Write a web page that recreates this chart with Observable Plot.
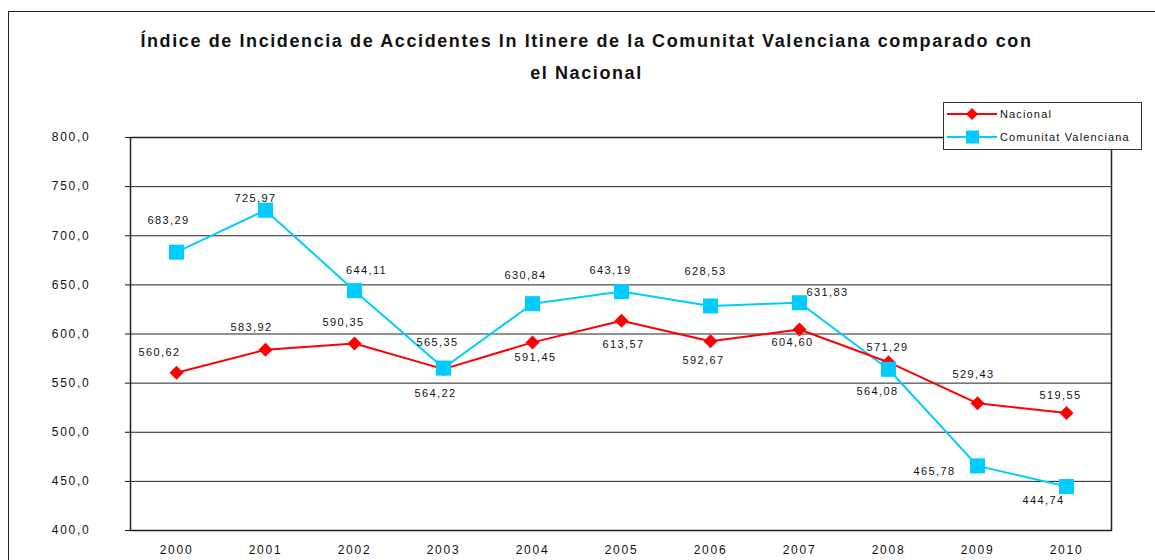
<!DOCTYPE html>
<html>
<head>
<meta charset="utf-8">
<script src="https://cdn.jsdelivr.net/npm/d3@7"></script>
<script src="https://cdn.jsdelivr.net/npm/@observablehq/plot@0.6"></script>
<style>
  html, body { margin: 0; padding: 0; background: #fff; overflow: hidden; }
  #wrap { position: relative; width: 1155px; height: 560px; overflow: hidden; font-family: "Liberation Sans", Arial, sans-serif; }
  #border { position: absolute; left: 8px; top: 11px; width: 1200px; height: 700px; border: 1.5px solid #222; box-sizing: border-box; }
  #title { position: absolute; left: 0; top: 24.5px; width: 1173px; text-align: center; font-weight: bold; font-size: 18px; line-height: 32px; color: #111; letter-spacing: 1.6px; }
  #chart { position: absolute; left: 0; top: 100px; }
  #chart [aria-label="y-axis tick label"], #chart [aria-label="x-axis tick label"] { letter-spacing: 1.75px; }
  #chart [aria-label="text"] { letter-spacing: 1.4px; }
  #legend { position: absolute; left: 943px; top: 102px; width: 199px; height: 48px; border: 1px solid #333; background: #fff; box-sizing: border-box; font-size: 11px; color: #111; letter-spacing: 1.15px; }
  .lg { position: absolute; left: 3px; height: 16px; display: flex; align-items: center; }
  .lg svg { margin-right: 3px; }
</style>
</head>
<body>
<div id="wrap">
  <div id="border"></div>
  <div id="title">Índice de Incidencia de Accidentes In Itinere de la Comunitat Valenciana comparado con<br>el Nacional</div>
  <div id="chart"></div>
  <div id="legend"></div>
</div>
<script>
const years = ["2000","2001","2002","2003","2004","2005","2006","2007","2008","2009","2010"];
const nacional = [560.62, 583.92, 590.35, 564.22, 591.45, 613.57, 592.67, 604.60, 571.29, 529.43, 519.55];
const valenciana = [683.29, 725.97, 644.11, 565.35, 630.84, 643.19, 628.53, 631.83, 564.08, 465.78, 444.74];
const yTicks = [400, 450, 500, 550, 600, 650, 700, 750, 800];
const seriesNames = ["Nacional", "Comunitat Valenciana"];
const seriesColors = ["#ff0000", "#00ccff"];

const fmt2 = v => v.toFixed(2).replace(".", ",");
const fmt1 = v => v.toFixed(1).replace(".", ",");

const nacData = years.map((y, i) => ({year: y, value: nacional[i]}));
const valData = years.map((y, i) => ({year: y, value: valenciana[i]}));

// label placement offsets (dx, dy) in pixels
const nacOff = [[-17,-20],[-14,-22],[-11,-21],[-8,24],[3,15],[2,24],[-7,19],[-7,13],[-1,-15],[-4,-29],[-6,-18]];
const valOff = [[-8,-32],[-10,-12],[12,-20],[-6,-26],[-7,-28],[-11,-21],[-5,-35],[28,-10],[-11,22],[-43,6],[-23,14]];

const labelMarks = (data, off) => data.map((d, i) => Plot.text([d], {
  x: "year", y: "value", text: d => fmt2(d.value),
  dx: off[i][0], dy: off[i][1], fontSize: 11, fill: "#111"
}));

const chart = Plot.plot({
  width: 1155,
  height: 460,
  marginLeft: 130,
  marginRight: 44,
  marginTop: 37,
  marginBottom: 30,
  style: {fontFamily: "Liberation Sans, Arial, sans-serif", fontSize: "12px", background: "transparent", color: "#111"},
  x: {type: "point", domain: years, padding: 0.5},
  y: {domain: [400, 800]},
  marks: [
    Plot.ruleY(yTicks, {stroke: "#222", strokeWidth: 1}),
    Plot.frame({stroke: "#222", strokeWidth: 1.5}),
    Plot.axisY({ticks: yTicks, tickSize: 5, tickPadding: 35, tickFormat: fmt1, label: null, fontSize: 12}),
    Plot.axisX({tickSize: 0, tickPadding: 15, label: null, fontSize: 12}),
    Plot.line(valData, {x: "year", y: "value", stroke: seriesColors[1], strokeWidth: 2}),
    Plot.line(nacData, {x: "year", y: "value", stroke: seriesColors[0], strokeWidth: 2}),
    Plot.dot(nacData, {x: "year", y: "value", symbol: "diamond2", r: 6.3, fill: seriesColors[0], stroke: "none"}),
    Plot.dot(valData, {x: "year", y: "value", symbol: "square", r: 8.5, fill: seriesColors[1], stroke: "none"}),
    ...labelMarks(nacData, nacOff),
    ...labelMarks(valData, valOff)
  ]
});
document.getElementById("chart").appendChild(chart);

// legend
const legend = document.getElementById("legend");
seriesNames.forEach((name, i) => {
  const row = document.createElement("div");
  row.className = "lg";
  row.style.top = (i === 0 ? 3 : 26) + "px";
  const marker = i === 0
    ? `<path d="M25,2 L31,8 L25,14 L19,8 Z" fill="${seriesColors[i]}"/>`
    : `<rect x="19" y="1.5" width="13" height="13" fill="${seriesColors[i]}"/>`;
  row.innerHTML = `<svg width="50" height="16"><line x1="0" x2="50" y1="8" y2="8" stroke="${seriesColors[i]}" stroke-width="2"/>${marker}</svg><span>${name}</span>`;
  legend.appendChild(row);
});
</script>
</body>
</html>
